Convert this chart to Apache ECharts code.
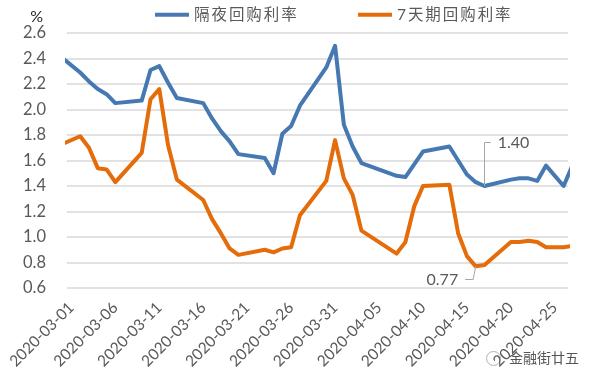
<!DOCTYPE html>
<html>
<head>
<meta charset="utf-8">
<script src="https://cdn.jsdelivr.net/npm/echarts@6/dist/echarts.min.js"></script>
<style>
    html, body { margin: 0; padding: 0; background: #fff; }
    #chart { width: 596px; height: 384px; }
</style>
</head>
<body>
<div id="chart"></div>
<script>
const tradeDates = ['2020-02-28', '2020-03-02', '2020-03-03', '2020-03-04', '2020-03-05', '2020-03-06',
    '2020-03-09', '2020-03-10', '2020-03-11', '2020-03-12', '2020-03-13',
    '2020-03-16', '2020-03-17', '2020-03-18', '2020-03-19', '2020-03-20',
    '2020-03-23', '2020-03-24', '2020-03-25', '2020-03-26', '2020-03-27',
    '2020-03-30', '2020-03-31', '2020-04-01', '2020-04-02', '2020-04-03',
    '2020-04-07', '2020-04-08', '2020-04-09', '2020-04-10',
    '2020-04-13', '2020-04-14', '2020-04-15', '2020-04-16', '2020-04-17',
    '2020-04-20', '2020-04-21', '2020-04-22', '2020-04-23', '2020-04-24',
    '2020-04-26', '2020-04-27'];
const overnight = [2.46, 2.29, 2.22, 2.16, 2.12, 2.05,
    2.07, 2.31, 2.34, 2.21, 2.09,
    2.05, 1.93, 1.83, 1.75, 1.65,
    1.62, 1.50, 1.81, 1.87, 2.03,
    2.33, 2.50, 1.88, 1.71, 1.58,
    1.48, 1.47, 1.57, 1.67,
    1.71, 1.60, 1.49, 1.43, 1.40,
    1.45, 1.46, 1.46, 1.44, 1.56,
    1.40, 1.56];
const sevenDay = [1.70, 1.79, 1.70, 1.54, 1.53, 1.43,
    1.66, 2.08, 2.16, 1.72, 1.45,
    1.29, 1.14, 1.03, 0.91, 0.86,
    0.90, 0.88, 0.91, 0.92, 1.17,
    1.44, 1.76, 1.46, 1.33, 1.05,
    0.87, 0.96, 1.24, 1.40,
    1.41, 1.03, 0.85, 0.77, 0.78,
    0.96, 0.96, 0.97, 0.96, 0.92,
    0.92, 0.93];
const tickDates = ['2020-03-01', '2020-03-06', '2020-03-11', '2020-03-16', '2020-03-21', '2020-03-26',
    '2020-03-31', '2020-04-05', '2020-04-10', '2020-04-15', '2020-04-20', '2020-04-25'];
const overnightName = '隔夜回购利率';
const sevenDayName = '7天期回购利率';

const textColor = '#595959';
const fontFamily = 'Lato, "Noto Sans CJK SC", sans-serif';
const DAY = 86400000;

const chart = echarts.init(document.getElementById('chart'));

function ts(d) {
    return echarts.time.parse(d).getTime();
}

// 图例文字字距较大，用细空格撑开
function spaced(name) {
    return name.split('').join('\u2009');
}

function makeLegend(name, left) {
    return {
        data: [name],
        left: left,
        top: 2,
        itemWidth: 34,
        itemHeight: 4,
        itemGap: 5,
        icon: 'rect',
        formatter: spaced,
        textStyle: { color: textColor, fontSize: 15.5, fontFamily: fontFamily }
    };
}

function makeSeries(name, values, color, callout) {
    return {
        name: name,
        type: 'line',
        showSymbol: false,
        symbol: 'none',
        smooth: false,
        animation: false,
        data: tradeDates.map((d, i) => [ts(d), values[i]]),
        lineStyle: { color: color, width: 4, join: 'round' },
        itemStyle: { color: color },
        markLine: {
            silent: true,
            animation: false,
            symbol: 'none',
            precision: 2,
            lineStyle: { color: '#a6a6a6', width: 1, type: 'solid' },
            label: { show: false },
            data: callout
        }
    };
}

const calloutLabel = (text) => ({
    show: true,
    position: 'end',
    formatter: text,
    color: textColor,
    fontSize: 16,
    fontFamily: fontFamily,
    distance: 7
});

const lowDay = ts('2020-04-16');
const highDay = ts('2020-04-17');

chart.setOption({
    animation: false,
    legend: [makeLegend(overnightName, 150), makeLegend(sevenDayName, 353)],
    grid: { left: 67, right: 28, top: 33, bottom: 96 },
    xAxis: {
        type: 'value',
        min: ts('2020-03-01') - DAY / 2,
        max: ts('2020-04-26') + DAY / 2,
        axisLine: { show: false },
        axisTick: { show: false },
        splitLine: { show: false },
        axisLabel: {
            rotate: 45,
            color: textColor,
            fontSize: 15.5,
            fontFamily: fontFamily,
            margin: 17,
            hideOverlap: false,
            customValues: tickDates.map(ts),
            formatter: (value) => echarts.time.format(value, '{yyyy}-{MM}-{dd}', false)
        }
    },
    yAxis: {
        type: 'value',
        min: 0.6,
        max: 2.6,
        interval: 0.2,
        name: '%',
        nameLocation: 'end',
        nameGap: 4,
        nameTextStyle: { color: '#262626', fontSize: 16, fontFamily: fontFamily, align: 'right', padding: [0, 24, 0, 0] },
        axisLine: { show: false },
        axisTick: { show: false },
        splitLine: { show: true, lineStyle: { color: '#d9d9d9', width: 1.5 } },
        axisLabel: {
            color: textColor,
            fontSize: 16.5,
            fontFamily: fontFamily,
            margin: 21,
            formatter: (value) => value.toFixed(1)
        }
    },
    series: [
        makeSeries(overnightName, overnight, '#4678b2', [
            [{ coord: [highDay, 1.40] }, { coord: [highDay, 1.74] }],
            [{ coord: [highDay, 1.74] }, { coord: [highDay + DAY * 0.7, 1.74], label: calloutLabel('1.40') }]
        ]),
        makeSeries(sevenDayName, sevenDay, '#e46c0a', [
            [{ coord: [lowDay, 0.77] }, { coord: [lowDay - DAY * 0.3, 0.665] }],
            [{ coord: [lowDay - DAY * 0.3, 0.665] }, { coord: [lowDay - DAY * 1.2, 0.665], label: calloutLabel('0.77') }]
        ])
    ],
    graphic: [
        {
            type: 'circle',
            left: 486,
            top: 351,
            shape: { r: 7 },
            style: { fill: '#fff', stroke: '#b0b0b0', lineWidth: 1 }
        },
        {
            type: 'text',
            left: 509,
            top: 351,
            style: { text: '金融街廿五', fill: '#555', font: '14px "Noto Sans CJK SC"' }
        }
    ]
});
</script>
</body>
</html>
